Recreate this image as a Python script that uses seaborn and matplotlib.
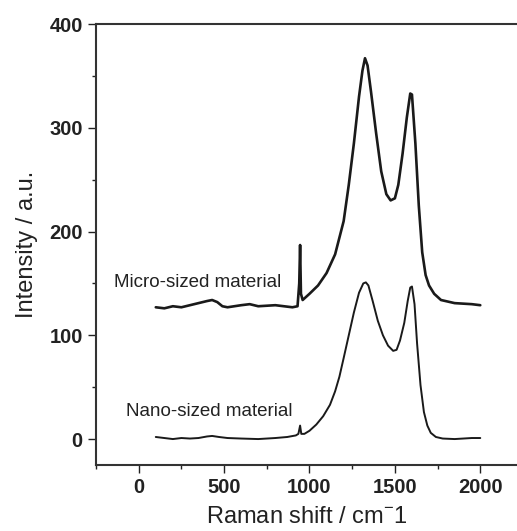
import numpy as np
import matplotlib
matplotlib.use("Agg")
import matplotlib.pyplot as plt
from matplotlib.ticker import MultipleLocator
import seaborn as sns

# Raman spectra (shift in cm-1, intensity in a.u.)
nano_shift = [100, 150, 200, 250, 300, 350, 400, 430, 470, 520, 600, 700, 800, 870,
              920, 935, 945, 952, 970, 1000, 1040, 1080, 1120, 1150, 1175, 1200, 1230,
              1260, 1290, 1315, 1330, 1345, 1370, 1400, 1430, 1460, 1490, 1510, 1530,
              1555, 1575, 1590, 1600, 1615, 1630, 1650, 1670, 1690, 1710, 1740, 1780,
              1850, 1900, 1950, 2000]
nano_int = [2, 1, 0, 1, 0.5, 1, 2.5, 3, 2, 1, 0.5, 0, 1, 2,
            3.5, 5, 13, 5, 5, 8, 14, 22, 33, 46, 60, 78, 100,
            122, 141, 150, 151, 148, 133, 114, 100, 90, 85, 86, 95,
            112, 133, 146, 147, 130, 92, 52, 26, 13, 6, 2, 0.5,
            0, 0.5, 1, 1]

micro_shift = [100, 150, 200, 250, 300, 350, 400, 430, 460, 490, 520, 600, 650, 700,
               800, 850, 900, 930, 940, 945, 950, 960, 1000, 1050, 1100, 1150, 1200,
               1230, 1260, 1290, 1310, 1325, 1340, 1360, 1390, 1420, 1450, 1475, 1500,
               1520, 1545, 1570, 1590, 1600, 1620, 1640, 1660, 1680, 1700, 1730, 1770,
               1850, 1950, 2000]
micro_int = [127, 126, 128, 127, 129, 131, 133, 134, 132, 128, 127, 129, 130, 128,
             129, 128, 127, 128, 150, 187, 140, 134, 140, 148, 160, 178, 210,
             245, 285, 330, 355, 367, 360, 335, 295, 258, 236, 230, 232,
             245, 275, 310, 333, 332, 285, 225, 180, 158, 148, 140, 134,
             131, 130, 129]

labels = ["Micro-sized material", "Nano-sized material"]
xticks = [0, 500, 1000, 1500, 2000]
yticks = [0, 100, 200, 300, 400]

sns.set_style("ticks")
plt.rcParams["font.family"] = ["Liberation Sans", "DejaVu Sans"]
plt.rcParams["mathtext.fontset"] = "custom"
plt.rcParams["mathtext.rm"] = "Liberation Sans"

fig = plt.figure(figsize=(5.17, 5.31), dpi=100)
ax = fig.add_axes([96 / 517, 66 / 531, 421 / 517, 441 / 531])

ink = "#1a1a1a"
sns.lineplot(x=micro_shift, y=micro_int, ax=ax, sort=False, estimator=None,
             color=ink, lw=1.9)
sns.lineplot(x=nano_shift, y=nano_int, ax=ax, sort=False, estimator=None,
             color=ink, lw=1.4)

ax.text(-146, 147, labels[0], fontsize=13.5, color="#222222", va="baseline")
ax.text(-76, 22, labels[1], fontsize=13.5, color="#222222", va="baseline")

ax.set_xlim(-250, 2215)
ax.set_ylim(-25, 400)
ax.set_xticks(xticks)
ax.set_yticks(yticks)
ax.xaxis.set_minor_locator(MultipleLocator(250))
ax.yaxis.set_minor_locator(MultipleLocator(50))
ax.tick_params(which="major", direction="out", length=6, width=1.0,
               labelsize=14.5, colors="#222222")
ax.tick_params(which="minor", direction="out", length=3, width=1.0, colors="#222222")
for lab in ax.get_xticklabels() + ax.get_yticklabels():
    lab.set_fontweight("bold")

for side in ["left", "bottom", "top"]:
    ax.spines[side].set_linewidth(1.5)
    ax.spines[side].set_color("#333333")
ax.spines["right"].set_visible(False)

ax.set_xlabel(r"Raman shift / cm$^{\mathregular{-}}$1", fontsize=17, color="#222222",
              labelpad=6)
ax.set_ylabel("Intensity / a.u.", fontsize=17, color="#222222", labelpad=8)

fig.savefig("out.png", dpi=100)
